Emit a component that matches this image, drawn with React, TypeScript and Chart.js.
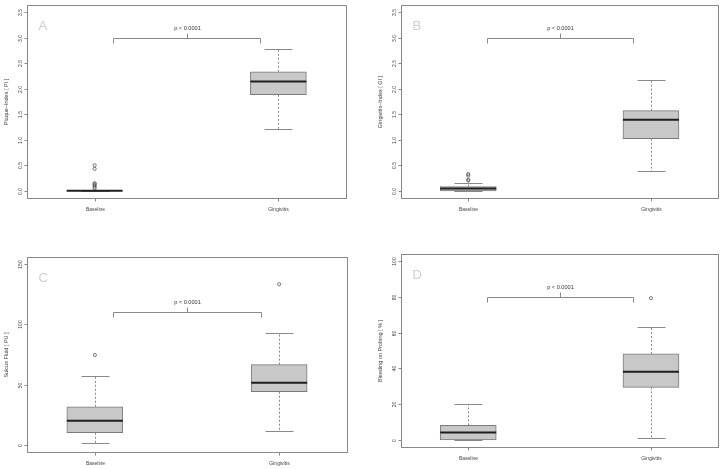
import React, { useEffect, useRef } from "react";
import { Chart, registerables } from "chart.js";
Chart.register(...registerables);

// ---------- data ----------
const groups = ["Baseline", "Gingivitis"];
const groupPos = [1, 2];
// each row: [lower whisker, Q1, median, Q3, upper whisker]
const plaqueStats = [
  [0, 0, 0, 0, 0],
  [1.21, 1.88, 2.14, 2.33, 2.78],
];
const plaqueOutliers = [[0.5, 0.43, 0.15, 0.13, 0.11, 0.08, 0.05], []];
const plaqueTicks = [0, 0.5, 1, 1.5, 2, 2.5, 3, 3.5];

const gingivalStats = [
  [0, 0, 0.045, 0.085, 0.16],
  [0.38, 1.02, 1.39, 1.57, 2.17],
];
const gingivalOutliers = [[0.33, 0.3, 0.22, 0.2], []];
const gingivalTicks = [0, 0.5, 1, 1.5, 2, 2.5, 3, 3.5];

const sulcusStats = [
  [1.4, 10, 20, 31.6, 57.4],
  [11.1, 44.1, 51.6, 66.6, 92.9],
];
const sulcusOutliers = [[74.6], [133.4]];
const sulcusTicks = [0, 50, 100, 150];

const bleedingStats = [
  [0, 0, 4.1, 8.1, 20],
  [0.9, 29.4, 38.1, 48.1, 63.1],
];
const bleedingOutliers = [[], [79.3]];
const bleedingTicks = [0, 20, 40, 60, 80, 100];

const pLabel = "p < 0.0001";
const bracketLevels = [3.0, 3.0, 110, 80];

// ---------- panel layout ----------
const W = 723;
const H = 469;
const panels = [
  { letter: "A", title: "Plaque\u2013Index [ PI ]", stats: plaqueStats, outliers: plaqueOutliers, ticks: plaqueTicks, digits: 1, yMin: -0.14, yMax: 3.64, bracket: bracketLevels[0], area: { l: 27, t: 3, r: 346, b: 198 } },
  { letter: "B", title: "Gingivitis\u2013Index [ GI ]", stats: gingivalStats, outliers: gingivalOutliers, ticks: gingivalTicks, digits: 1, yMin: -0.14, yMax: 3.64, bracket: bracketLevels[1], area: { l: 401, t: 3, r: 719, b: 198 } },
  { letter: "C", title: "Sulcus Fluid [ PU ]", stats: sulcusStats, outliers: sulcusOutliers, ticks: sulcusTicks, digits: 0, yMin: -6, yMax: 156, bracket: bracketLevels[2], area: { l: 27, t: 257, r: 347, b: 452 } },
  { letter: "D", title: "Bleeding on Probing [ % ]", stats: bleedingStats, outliers: bleedingOutliers, ticks: bleedingTicks, digits: 0, yMin: -4, yMax: 104, bracket: bracketLevels[3], area: { l: 401, t: 254, r: 719, b: 447 } },
];

const X_MIN = 0.632;
const X_MAX = 2.368;
const BOX_PX = 56;
const FONT = "'Liberation Sans', Arial, sans-serif";
const TEXT = "#444";
const LINE = "#888";

function makePlugin(p: any) {
  return {
    id: "boxplotDecor" + p.letter,
    beforeDatasetsDraw(chart: any) {
      const ctx = chart.ctx;
      const xs = chart.scales.x;
      const ys = chart.scales.y;
      ctx.save();
      p.stats.forEach((s: number[], i: number) => {
        const cx = Math.round(xs.getPixelForValue(groupPos[i])) + 0.5;
        // dashed whiskers
        ctx.strokeStyle = LINE;
        ctx.lineWidth = 1;
        ctx.setLineDash([2, 2]);
        ctx.beginPath();
        ctx.moveTo(cx, ys.getPixelForValue(s[3]));
        ctx.lineTo(cx, ys.getPixelForValue(s[4]));
        ctx.moveTo(cx, ys.getPixelForValue(s[1]));
        ctx.lineTo(cx, ys.getPixelForValue(s[0]));
        ctx.stroke();
        ctx.setLineDash([]);
        // caps
        const half = BOX_PX / 4;
        ctx.beginPath();
        [s[0], s[4]].forEach((v) => {
          const y = Math.round(ys.getPixelForValue(v)) + 0.5;
          ctx.moveTo(cx - half, y);
          ctx.lineTo(cx + half, y);
        });
        ctx.stroke();
      });
      ctx.restore();
    },
    afterDatasetsDraw(chart: any) {
      const ctx = chart.ctx;
      const xs = chart.scales.x;
      const ys = chart.scales.y;
      const a = chart.chartArea;
      ctx.save();
      // medians
      p.stats.forEach((s: number[], i: number) => {
        const cx = xs.getPixelForValue(groupPos[i]);
        const y = ys.getPixelForValue(s[2]);
        ctx.strokeStyle = "#1e1e1e";
        ctx.lineWidth = 2;
        ctx.beginPath();
        ctx.moveTo(cx - BOX_PX / 2, y);
        ctx.lineTo(cx + BOX_PX / 2, y);
        ctx.stroke();
      });
      // frame
      ctx.strokeStyle = LINE;
      ctx.lineWidth = 1;
      const L = Math.round(a.left) + 0.5;
      const T = Math.round(a.top) + 0.5;
      const R = Math.round(a.right) + 0.5;
      const B = Math.round(a.bottom) + 0.5;
      ctx.strokeRect(L, T, R - L, B - T);
      // y ticks + labels
      ctx.fillStyle = TEXT;
      ctx.font = `5px ${FONT}`;
      ctx.textAlign = "center";
      ctx.textBaseline = "middle";
      p.ticks.forEach((v: number) => {
        const y = Math.round(ys.getPixelForValue(v)) + 0.5;
        ctx.beginPath();
        ctx.moveTo(L - 3, y);
        ctx.lineTo(L, y);
        ctx.stroke();
        ctx.save();
        ctx.translate(L - 7, y);
        ctx.rotate(-Math.PI / 2);
        ctx.fillText(v.toFixed(p.digits), 0, 0);
        ctx.restore();
      });
      // x ticks + labels
      groups.forEach((g, i) => {
        const x = Math.round(xs.getPixelForValue(groupPos[i])) + 0.5;
        ctx.beginPath();
        ctx.moveTo(x, B);
        ctx.lineTo(x, B + 3);
        ctx.stroke();
        ctx.font = `5px ${FONT}`;
        ctx.fillText(g, x, B + 11);
      });
      // axis title
      ctx.save();
      ctx.translate(L - 21, (T + B) / 2);
      ctx.rotate(-Math.PI / 2);
      ctx.font = `5.5px ${FONT}`;
      ctx.fillText(p.title, 0, 0);
      ctx.restore();
      // significance bracket
      const by = Math.round(ys.getPixelForValue(p.bracket)) + 0.5;
      const x1 = Math.round(xs.getPixelForValue(1.1)) + 0.5;
      const x2 = Math.round(xs.getPixelForValue(1.9)) + 0.5;
      const xm = Math.round(xs.getPixelForValue(1.5)) + 0.5;
      ctx.strokeStyle = LINE;
      ctx.beginPath();
      ctx.moveTo(x1, by + 5);
      ctx.lineTo(x1, by);
      ctx.lineTo(x2, by);
      ctx.lineTo(x2, by + 5);
      ctx.moveTo(xm, by);
      ctx.lineTo(xm, by - 5);
      ctx.stroke();
      ctx.fillStyle = "#333";
      ctx.font = `5.6px ${FONT}`;
      ctx.fillText(pLabel, xm, by - 10);
      // panel letter
      ctx.fillStyle = "#cfcfcf";
      ctx.font = `13px ${FONT}`;
      ctx.textAlign = "left";
      ctx.fillText(p.letter, L + 11, T + 21);
      ctx.restore();
    },
  };
}

function Panel({ p }: { p: any }) {
  const ref = useRef<HTMLCanvasElement>(null);
  useEffect(() => {
    const canvas = ref.current!;
    const outlierPoints: { x: number; y: number }[] = [];
    p.outliers.forEach((arr: number[], i: number) =>
      arr.forEach((v) => outlierPoints.push({ x: groupPos[i], y: v }))
    );
    const chart = new Chart(canvas, {
      type: "bar",
      data: {
        datasets: [
          {
            type: "bar",
            data: p.stats.map((s: number[], i: number) => ({ x: groupPos[i], y: [s[1], s[3]] })),
            backgroundColor: "#c8c8c8",
            borderColor: "#7a7a7a",
            borderWidth: 1,
            borderSkipped: false,
            barThickness: BOX_PX,
          } as any,
          {
            type: "scatter",
            data: outlierPoints,
            pointRadius: 1.6,
            pointBorderWidth: 0.8,
            pointBorderColor: "#555",
            pointBackgroundColor: "rgba(0,0,0,0)",
          } as any,
        ],
      },
      options: {
        animation: false,
        responsive: false,
        events: [],
        layout: {
          padding: { left: p.area.l, top: p.area.t, right: W - p.area.r, bottom: H - p.area.b },
        },
        scales: {
          x: { type: "linear", min: X_MIN, max: X_MAX, display: false, offset: false },
          y: { type: "linear", min: p.yMin, max: p.yMax, display: false },
        },
        plugins: { legend: { display: false }, tooltip: { enabled: false } },
      },
      plugins: [makePlugin(p)],
    });
    return () => chart.destroy();
  }, [p]);
  return (
    <canvas
      ref={ref}
      width={W}
      height={H}
      style={{ position: "absolute", left: 0, top: 0, width: W, height: H, pointerEvents: "none" }}
    />
  );
}

export default function App() {
  return (
    <div style={{ position: "absolute", left: 0, top: 0, width: W, height: H, background: "#fff" }}>
      {panels.map((p) => (
        <Panel key={p.letter} p={p} />
      ))}
    </div>
  );
}
